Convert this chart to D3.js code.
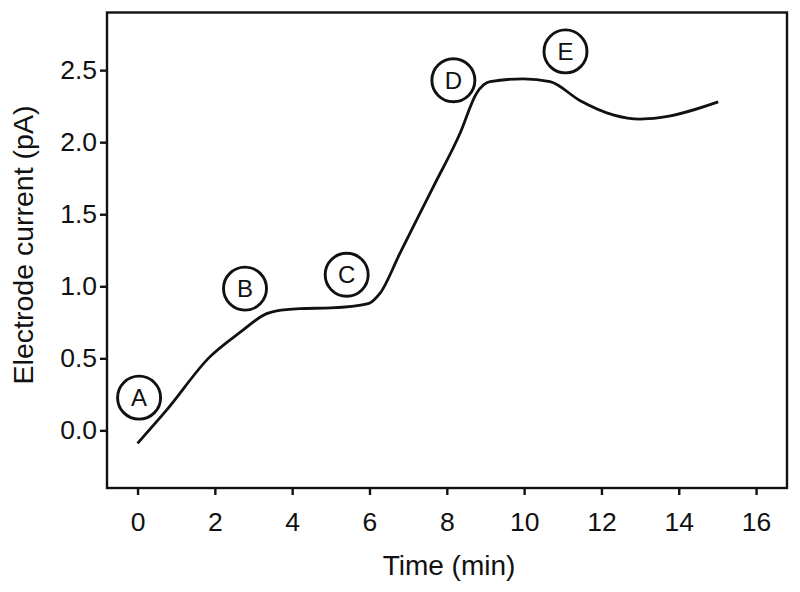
<!DOCTYPE html>
<html><head><meta charset="utf-8">
<script src="https://cdn.jsdelivr.net/npm/d3@7"></script>
<style>body{margin:0;background:#fff}svg{display:block}text{font-family:"Liberation Sans",Arial,sans-serif;fill:#111}</style>
</head><body>
<svg id="c" width="800" height="592"></svg>
<script>
const times  = [0, 0.75, 1.87, 2.65, 3.34, 3.6, 4.2, 5.0, 5.97, 6.27, 6.79, 7.65, 8.34, 8.77, 9.12, 9.98, 10.67, 11.44, 12.3, 13.0, 13.5, 15.02];
const current= [-0.09, 0.14, 0.51, 0.68, 0.81, 0.83, 0.845, 0.85, 0.88, 0.95, 1.23, 1.69, 2.06, 2.34, 2.42, 2.44, 2.42, 2.29, 2.19, 2.16, 2.17, 2.28];
const labelNames = ["A","B","C","D","E"];
const labelT = [0.04, 2.78, 5.41, 8.17, 11.07];
const labelY = [0.227, 0.984, 1.08, 2.43, 2.63];
const xTicks = [0,2,4,6,8,10,12,14,16];
const yTicks = [0.0,0.5,1.0,1.5,2.0,2.5];

const svg = d3.select("#c");
const L=107,R=787,T=12.5,B=488;
const x = d3.scaleLinear().domain([-0.79,16.8]).range([L,R]);
const y = d3.scaleLinear().domain([-0.4,2.9]).range([B,T]);

svg.append("rect").attr("x",L).attr("y",T).attr("width",R-L).attr("height",B-T)
  .attr("fill","none").attr("stroke","#111").attr("stroke-width",2.4);

const xa = svg.append("g").attr("transform",`translate(0,${B})`)
  .call(d3.axisBottom(x).tickValues(xTicks).tickSize(7).tickPadding(17).tickFormat(d3.format("d")));
const ya = svg.append("g").attr("transform",`translate(${L},0)`)
  .call(d3.axisLeft(y).tickValues(yTicks).tickSize(7).tickPadding(3).tickFormat(d3.format(".1f")));
[xa,ya].forEach(g=>{
  g.select(".domain").remove();
  g.selectAll(".tick line").attr("stroke","#111").attr("stroke-width",2.4);
  g.selectAll(".tick text").attr("font-size",26.5).attr("fill","#111").attr("font-family",'"Liberation Sans",Arial,sans-serif');
});

const pts = times.map((t,i)=>[t,current[i]]);
svg.append("path").datum(pts)
  .attr("d", d3.line().x(d=>x(d[0])).y(d=>y(d[1])).curve(d3.curveMonotoneX))
  .attr("fill","none").attr("stroke","#111").attr("stroke-width",2.8);

const lg = svg.append("g");
labelNames.forEach((n,i)=>{
  const g = lg.append("g").attr("transform",`translate(${x(labelT[i])},${y(labelY[i])})`);
  g.append("circle").attr("r",21.5).attr("fill","none").attr("stroke","#111").attr("stroke-width",2.9);
  g.append("text").attr("text-anchor","middle").attr("dy","0.36em").attr("font-size",24).text(n);
});

svg.append("text").attr("x",(L+R)/2+2).attr("y",575).attr("text-anchor","middle").attr("font-size",28).text("Time (min)");
svg.append("text").attr("transform",`translate(33,245) rotate(-90)`).attr("text-anchor","middle").attr("font-size",28.5).text("Electrode current (pA)");
</script>
</body></html>
